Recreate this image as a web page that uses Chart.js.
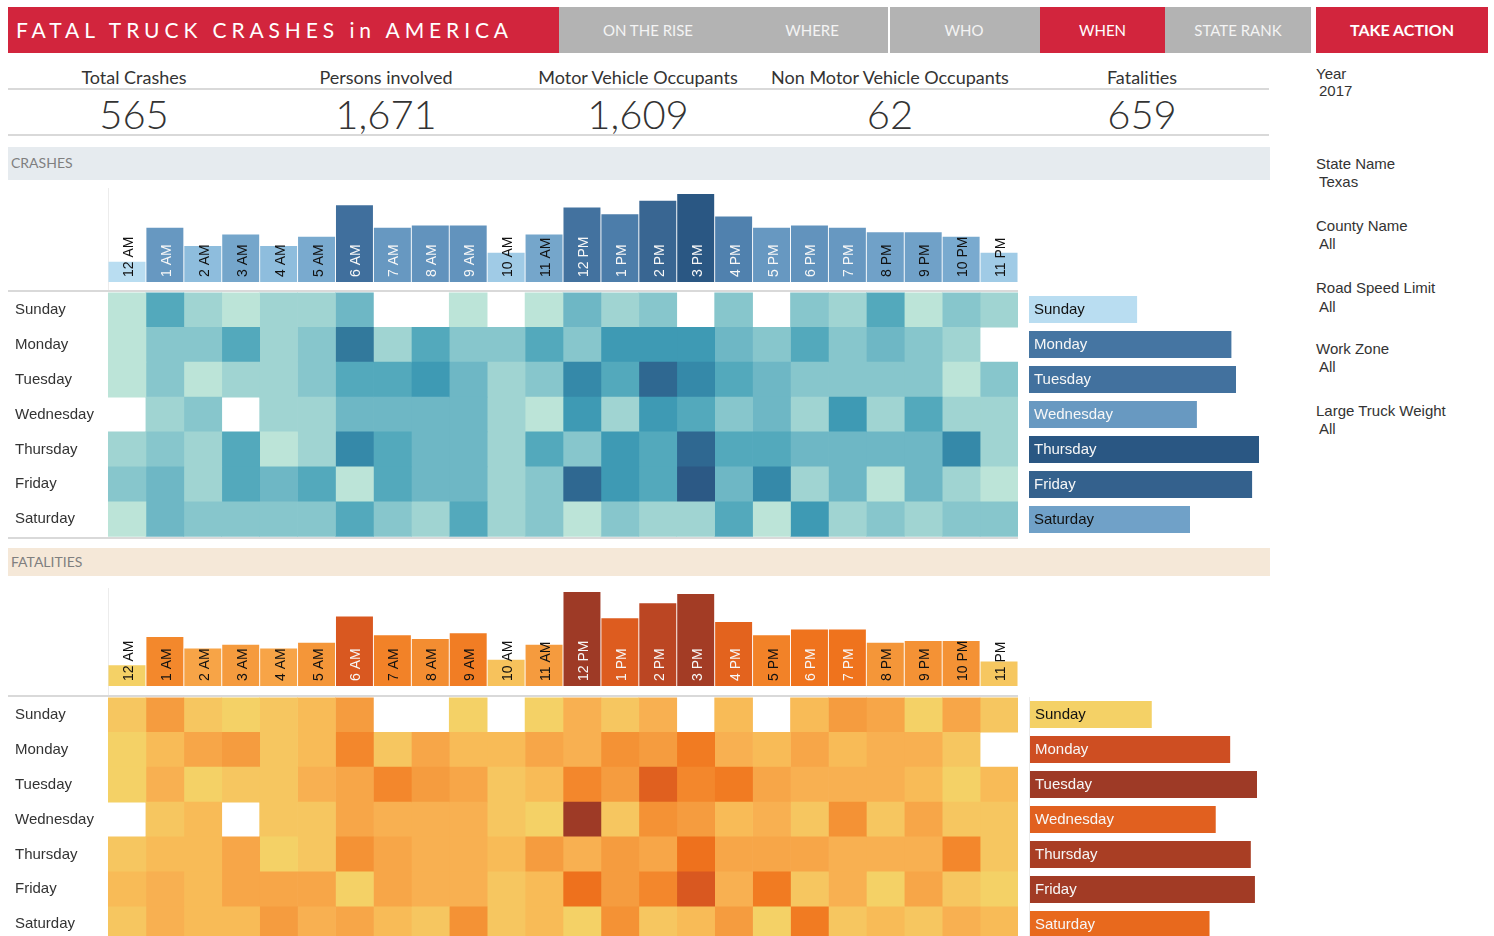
<!DOCTYPE html>
<html><head><meta charset="utf-8">
<script src="https://cdn.jsdelivr.net/npm/chart.js@4.4.1/dist/chart.umd.min.js"></script>
<style>
html,body{margin:0;padding:0;width:1494px;height:936px;overflow:hidden;background:#fff;font-family:Arial,"Liberation Sans",sans-serif;}
.a{position:absolute;}
.tab{position:absolute;top:7px;height:46px;line-height:46px;text-align:center;color:#f4f4f4;font-family:Lato,"Open Sans",sans-serif;font-size:15px;}
.kl{position:absolute;top:66px;width:252px;text-align:center;font-family:Lato,"Open Sans",sans-serif;font-size:18px;color:#333;}
.kv{position:absolute;top:90px;width:252px;text-align:center;font-family:Lato,"Open Sans",sans-serif;font-weight:300;font-size:40px;color:#333;}
.hl{position:absolute;height:2px;background:#d9d9d9;left:8px;width:1261px;}
.fl{position:absolute;left:1316px;font-size:15px;color:#333;}
.fv{position:absolute;left:1319px;font-size:15px;color:#333;}
.band{position:absolute;left:8px;width:1262px;font-family:Lato,"Open Sans",sans-serif;font-size:14px;color:#7f7f7f;padding-left:3px;box-sizing:border-box;}
canvas{position:absolute;}
</style></head>
<body>
<div class="a" style="left:8px;top:7px;width:551px;height:46px;background:#d2253d;"></div>
<div class="a" style="left:16px;top:7px;height:46px;line-height:46px;color:#fff;font-family:Lato,'Open Sans',sans-serif;font-size:21px;letter-spacing:4.9px;white-space:nowrap;">FATAL TRUCK CRASHES in AMERICA</div>
<div class="a" style="left:559px;top:7px;width:481px;height:46px;background:#b3b3b3;"></div>
<div class="a" style="left:888px;top:7px;width:2px;height:46px;background:#fff;"></div>
<div class="a" style="left:1040px;top:7px;width:125px;height:46px;background:#d2253d;"></div>
<div class="a" style="left:1165px;top:7px;width:146px;height:46px;background:#b3b3b3;"></div>
<div class="a" style="left:1316px;top:7px;width:172px;height:46px;background:#d2253d;"></div>
<div class="tab" style="left:568px;width:160px;">ON THE RISE</div>
<div class="tab" style="left:732px;width:160px;">WHERE</div>
<div class="tab" style="left:884px;width:160px;">WHO</div>
<div class="tab" style="left:1040px;width:125px;color:#fff;">WHEN</div>
<div class="tab" style="left:1165px;width:146px;">STATE RANK</div>
<div class="tab" style="left:1316px;width:172px;color:#fff;font-weight:bold;font-size:16px;">TAKE ACTION</div>

<div id="kpis"></div>
<div class="hl" style="top:88px;"></div>
<div class="hl" style="top:134px;"></div>

<div class="fl" style="top:65px;">Year</div><div class="fv" style="top:82px;">2017</div>
<div class="fl" style="top:155px;">State Name</div><div class="fv" style="top:173px;">Texas</div>
<div class="fl" style="top:217px;">County Name</div><div class="fv" style="top:235px;">All</div>
<div class="fl" style="top:279px;">Road Speed Limit</div><div class="fv" style="top:298px;">All</div>
<div class="fl" style="top:340px;">Work Zone</div><div class="fv" style="top:358px;">All</div>
<div class="fl" style="top:402px;">Large Truck Weight</div><div class="fv" style="top:420px;">All</div>

<div class="band" style="top:147px;height:33px;line-height:31px;background:#e6ebef;">CRASHES</div>
<div class="band" style="top:548px;height:28px;line-height:27px;background:#f5e8d8;">FATALITIES</div>

<div class="a" style="left:108px;top:188px;width:1px;height:104px;background:#ececec;"></div>
<div class="a" style="left:108px;top:588px;width:1px;height:109px;background:#ececec;"></div>
<div class="a" style="left:8px;top:290px;width:1010px;height:2px;background:#d9d9d9;"></div>
<div class="a" style="left:8px;top:537px;width:1010px;height:2px;background:#d9d9d9;"></div>
<div class="a" style="left:8px;top:695px;width:1010px;height:2px;background:#d9d9d9;"></div>
<div class="a" style="left:1029px;top:697px;width:1px;height:245px;background:#ececec;"></div>

<canvas id="crashHour" width="910" height="97" style="left:108px;top:185px;"></canvas>
<canvas id="crashHeat" width="1010" height="245" style="left:8px;top:292px;"></canvas>
<canvas id="crashDay" width="230" height="245" style="left:1029px;top:292px;"></canvas>
<canvas id="fatalHour" width="910" height="101" style="left:108px;top:585px;"></canvas>
<canvas id="fatalHeat" width="1010" height="245" style="left:8px;top:697px;"></canvas>
<canvas id="fatalDay" width="227" height="245" style="left:1030px;top:697px;"></canvas>

<script>
// ---------------- DATA ----------------
const kpiLabels = ["Total Crashes","Persons involved","Motor Vehicle Occupants","Non Motor Vehicle Occupants","Fatalities"];
const kpiValues = ["565","1,671","1,609","62","659"];

const hours = ["12 AM","1 AM","2 AM","3 AM","4 AM","5 AM","6 AM","7 AM","8 AM","9 AM","10 AM","11 AM",
               "12 PM","1 PM","2 PM","3 PM","4 PM","5 PM","6 PM","7 PM","8 PM","9 PM","10 PM","11 PM"];
const days = ["Sunday","Monday","Tuesday","Wednesday","Thursday","Friday","Saturday"];

const crashByHour = [9,24,16,21,16,20,34,24,25,25,13,21,33,30,36,39,29,24,25,24,22,22,20,13];
const crashByDay  = [47,88,90,73,100,97,70];
const fatalByHour = [11,26,20,22,20,23,37,27,25,28,14,22,50,36,44,49,34,27,30,30,23,24,24,13];
const fatalByDay  = [59,97,110,90,107,109,87];

// crash counts: rows = days (Sun..Sat), columns = hours (12 AM..11 PM)
const crashSun = [1,5,2,1,2,2,4,0,0,1,0,1,4,2,3,0,3,0,3,2,5,1,3,2];
const crashMon = [1,3,3,5,2,3,8,2,5,3,3,5,3,6,6,6,4,3,5,3,4,3,2,0];
const crashTue = [1,3,1,2,2,3,5,5,6,4,2,3,7,5,9,7,5,4,3,3,3,3,1,3];
const crashWed = [0,2,3,0,2,2,4,4,4,4,2,1,6,2,6,5,3,4,2,6,2,5,2,2];
const crashThu = [2,3,2,5,1,2,7,5,4,4,2,5,3,6,5,9,5,5,4,4,4,4,7,2];
const crashFri = [3,4,2,5,4,5,1,5,4,4,2,3,9,6,5,10,4,7,2,4,1,4,2,1];
const crashSat = [1,4,3,3,3,3,5,3,2,5,2,3,1,3,2,2,5,1,6,2,3,2,3,3];

const fatalSun = [2,6,2,1,2,3,6,0,0,1,0,1,4,2,4,0,3,0,3,6,5,1,5,2];
const fatalMon = [1,3,5,6,2,3,8,2,5,3,3,5,4,7,6,9,4,3,5,3,4,4,2,0];
const fatalTue = [1,4,1,2,2,4,5,8,6,5,2,3,8,6,12,8,9,5,4,4,4,3,1,3];
const fatalWed = [0,2,3,0,2,2,5,4,4,4,2,1,19,2,7,6,3,4,2,7,2,5,2,2];
const fatalThu = [2,3,3,5,1,2,7,5,4,4,3,6,4,6,5,10,5,5,5,4,4,4,8,2];
const fatalFri = [3,4,3,5,5,5,1,5,4,4,2,3,10,6,8,13,4,9,2,4,1,5,2,1];
const fatalSat = [2,4,3,3,6,4,5,3,2,7,2,3,1,7,2,3,6,1,9,2,3,2,4,3];

const crashGrid = [crashSun,crashMon,crashTue,crashWed,crashThu,crashFri,crashSat];
const fatalGrid = [fatalSun,fatalMon,fatalTue,fatalWed,fatalThu,fatalFri,fatalSat];

// ---------------- STYLE ----------------
const BLUE = ["#b9ddf1","#afd6ed","#a5cfe9","#9bc7e4","#92c0df","#89b8da","#80b0d5","#79aacf","#72a3c9","#6a9bc3",
              "#6394be","#5b8cb8","#5485b2","#4e7fac","#4878a6","#4473a0","#3f6e9c","#3a6793","#33608c","#2a5783"];
const BLUE_TEAL = ["#bce4d8","#aedcd5","#a1d5d2","#95cecf","#89c8cc","#7ec1ca","#72bac6","#66b2c2","#59acbe","#4ba5ba",
                   "#419eb6","#3b96b2","#358ead","#3586a7","#347ea1","#32779b","#316f96","#2f6790","#2d608a","#2c5985"];
const ORANGE_GOLD = ["#f4d166","#f6c760","#f8bc58","#f8b252","#f7a84a","#f69e41","#f49538","#f38b2f","#f28026","#f0751e",
                     "#eb6c1c","#e4641e","#de5d1f","#d75521","#cf4f22","#c64a22","#bc4623","#b24223","#a83e24","#9e3a26"];

function hex(h){return [parseInt(h.slice(1,3),16),parseInt(h.slice(3,5),16),parseInt(h.slice(5,7),16)];}
function ramp(pal,t){
  t=Math.max(0,Math.min(1,t));
  const x=t*(pal.length-1), i=Math.floor(x), f=x-i;
  const a=hex(pal[i]), b=hex(pal[Math.min(i+1,pal.length-1)]);
  return 'rgb('+a.map((v,k)=>Math.round(v+(b[k]-v)*f)).join(',')+')';
}
function norm(vals){const mn=Math.min(...vals), mx=Math.max(...vals); return vals.map(v=>(v-mn)/(mx-mn));}
function txtCol(t){return t>0.46?'#f7f7f7':'#111';}

// KPI row
const kp=document.getElementById('kpis');
kpiLabels.forEach((l,i)=>{
  const a=document.createElement('div'); a.className='kl'; a.style.left=(8+252*i)+'px'; a.textContent=l; kp.appendChild(a);
  const b=document.createElement('div'); b.className='kv'; b.style.left=(8+252*i)+'px'; b.textContent=kpiValues[i]; kp.appendChild(b);
});

const barLabels={
  id:'barLabels',
  afterDatasetsDraw(chart,args,opts){
    if(!opts || !opts.colors) return;
    const ctx=chart.ctx, meta=chart.getDatasetMeta(0);
    ctx.save();
    ctx.font='15px Arial, "Liberation Sans", sans-serif';
    meta.data.forEach((el,i)=>{
      const lbl=chart.data.labels[i];
      ctx.fillStyle=opts.colors[i];
      if(opts.vertical){
        ctx.save();
        ctx.translate(el.x, el.base-5);
        ctx.rotate(-Math.PI/2);
        ctx.textAlign='left'; ctx.textBaseline='alphabetic';
        ctx.font='14px Arial, "Liberation Sans", sans-serif';
        ctx.fillText(lbl,0,6);
        ctx.restore();
      } else {
        ctx.textAlign='left'; ctx.textBaseline='middle';
        ctx.fillText(lbl, el.base+5, el.y);
      }
    });
    ctx.restore();
  }
};
Chart.register(barLabels);

const common={animation:false,responsive:false,events:[],plugins:{legend:{display:false},tooltip:{enabled:false}}};

function hourChart(id,vals,pal,padTop){
  const ts=norm(vals);
  new Chart(document.getElementById(id),{
    type:'bar',
    data:{labels:hours,datasets:[{data:vals,backgroundColor:ts.map(t=>ramp(pal,t)),borderWidth:0,barPercentage:0.975,categoryPercentage:1}]},
    options:Object.assign({},common,{
      layout:{padding:{top:padTop}},
      plugins:{legend:{display:false},tooltip:{enabled:false},barLabels:{vertical:true,colors:ts.map(txtCol)}},
      scales:{x:{display:false},y:{display:false,min:0,max:Math.max(...vals)}}
    })
  });
}

function dayChart(id,vals,pal){
  const ts=norm(vals);
  new Chart(document.getElementById(id),{
    type:'bar',
    data:{labels:days,datasets:[{data:vals,backgroundColor:ts.map(t=>ramp(pal,t)),borderWidth:0,barPercentage:0.77,categoryPercentage:1}]},
    options:Object.assign({},common,{
      indexAxis:'y',
      plugins:{legend:{display:false},tooltip:{enabled:false},barLabels:{vertical:false,colors:ts.map(txtCol)}},
      scales:{x:{display:false,min:0,max:Math.max(...vals)},y:{display:false}}
    })
  });
}

function heatChart(id,grid,pal){
  const nz=grid.flat().filter(v=>v>0);
  const mn=Math.min(...nz), mx=Math.max(...nz);
  const datasets=hours.map((h,hi)=>({
    label:h,
    data:days.map(()=>[hi,hi+1]),
    backgroundColor:days.map((d,di)=>grid[di][hi]>0?ramp(pal,(grid[di][hi]-mn)/(mx-mn)):'rgba(255,255,255,0)'),
    borderWidth:0,barPercentage:1,categoryPercentage:1,grouped:false
  }));
  new Chart(document.getElementById(id),{
    type:'bar',
    data:{labels:days,datasets},
    options:Object.assign({},common,{
      indexAxis:'y',
      layout:{padding:{left:7,top:0,bottom:0}},
      scales:{
        x:{type:'linear',min:0,max:hours.length,display:false},
        y:{afterFit(s){s.width=93;},grid:{display:false},border:{display:false},
           ticks:{crossAlign:'far',padding:0,color:'#333',font:{family:'Arial',size:15,lineHeight:0.05}}}
      }
    })
  });
}

hourChart('crashHour',crashByHour,BLUE,9);
heatChart('crashHeat',crashGrid,BLUE_TEAL);
dayChart('crashDay',crashByDay,BLUE);
hourChart('fatalHour',fatalByHour,ORANGE_GOLD,7);
heatChart('fatalHeat',fatalGrid,ORANGE_GOLD);
dayChart('fatalDay',fatalByDay,ORANGE_GOLD);
</script>
</body></html>
